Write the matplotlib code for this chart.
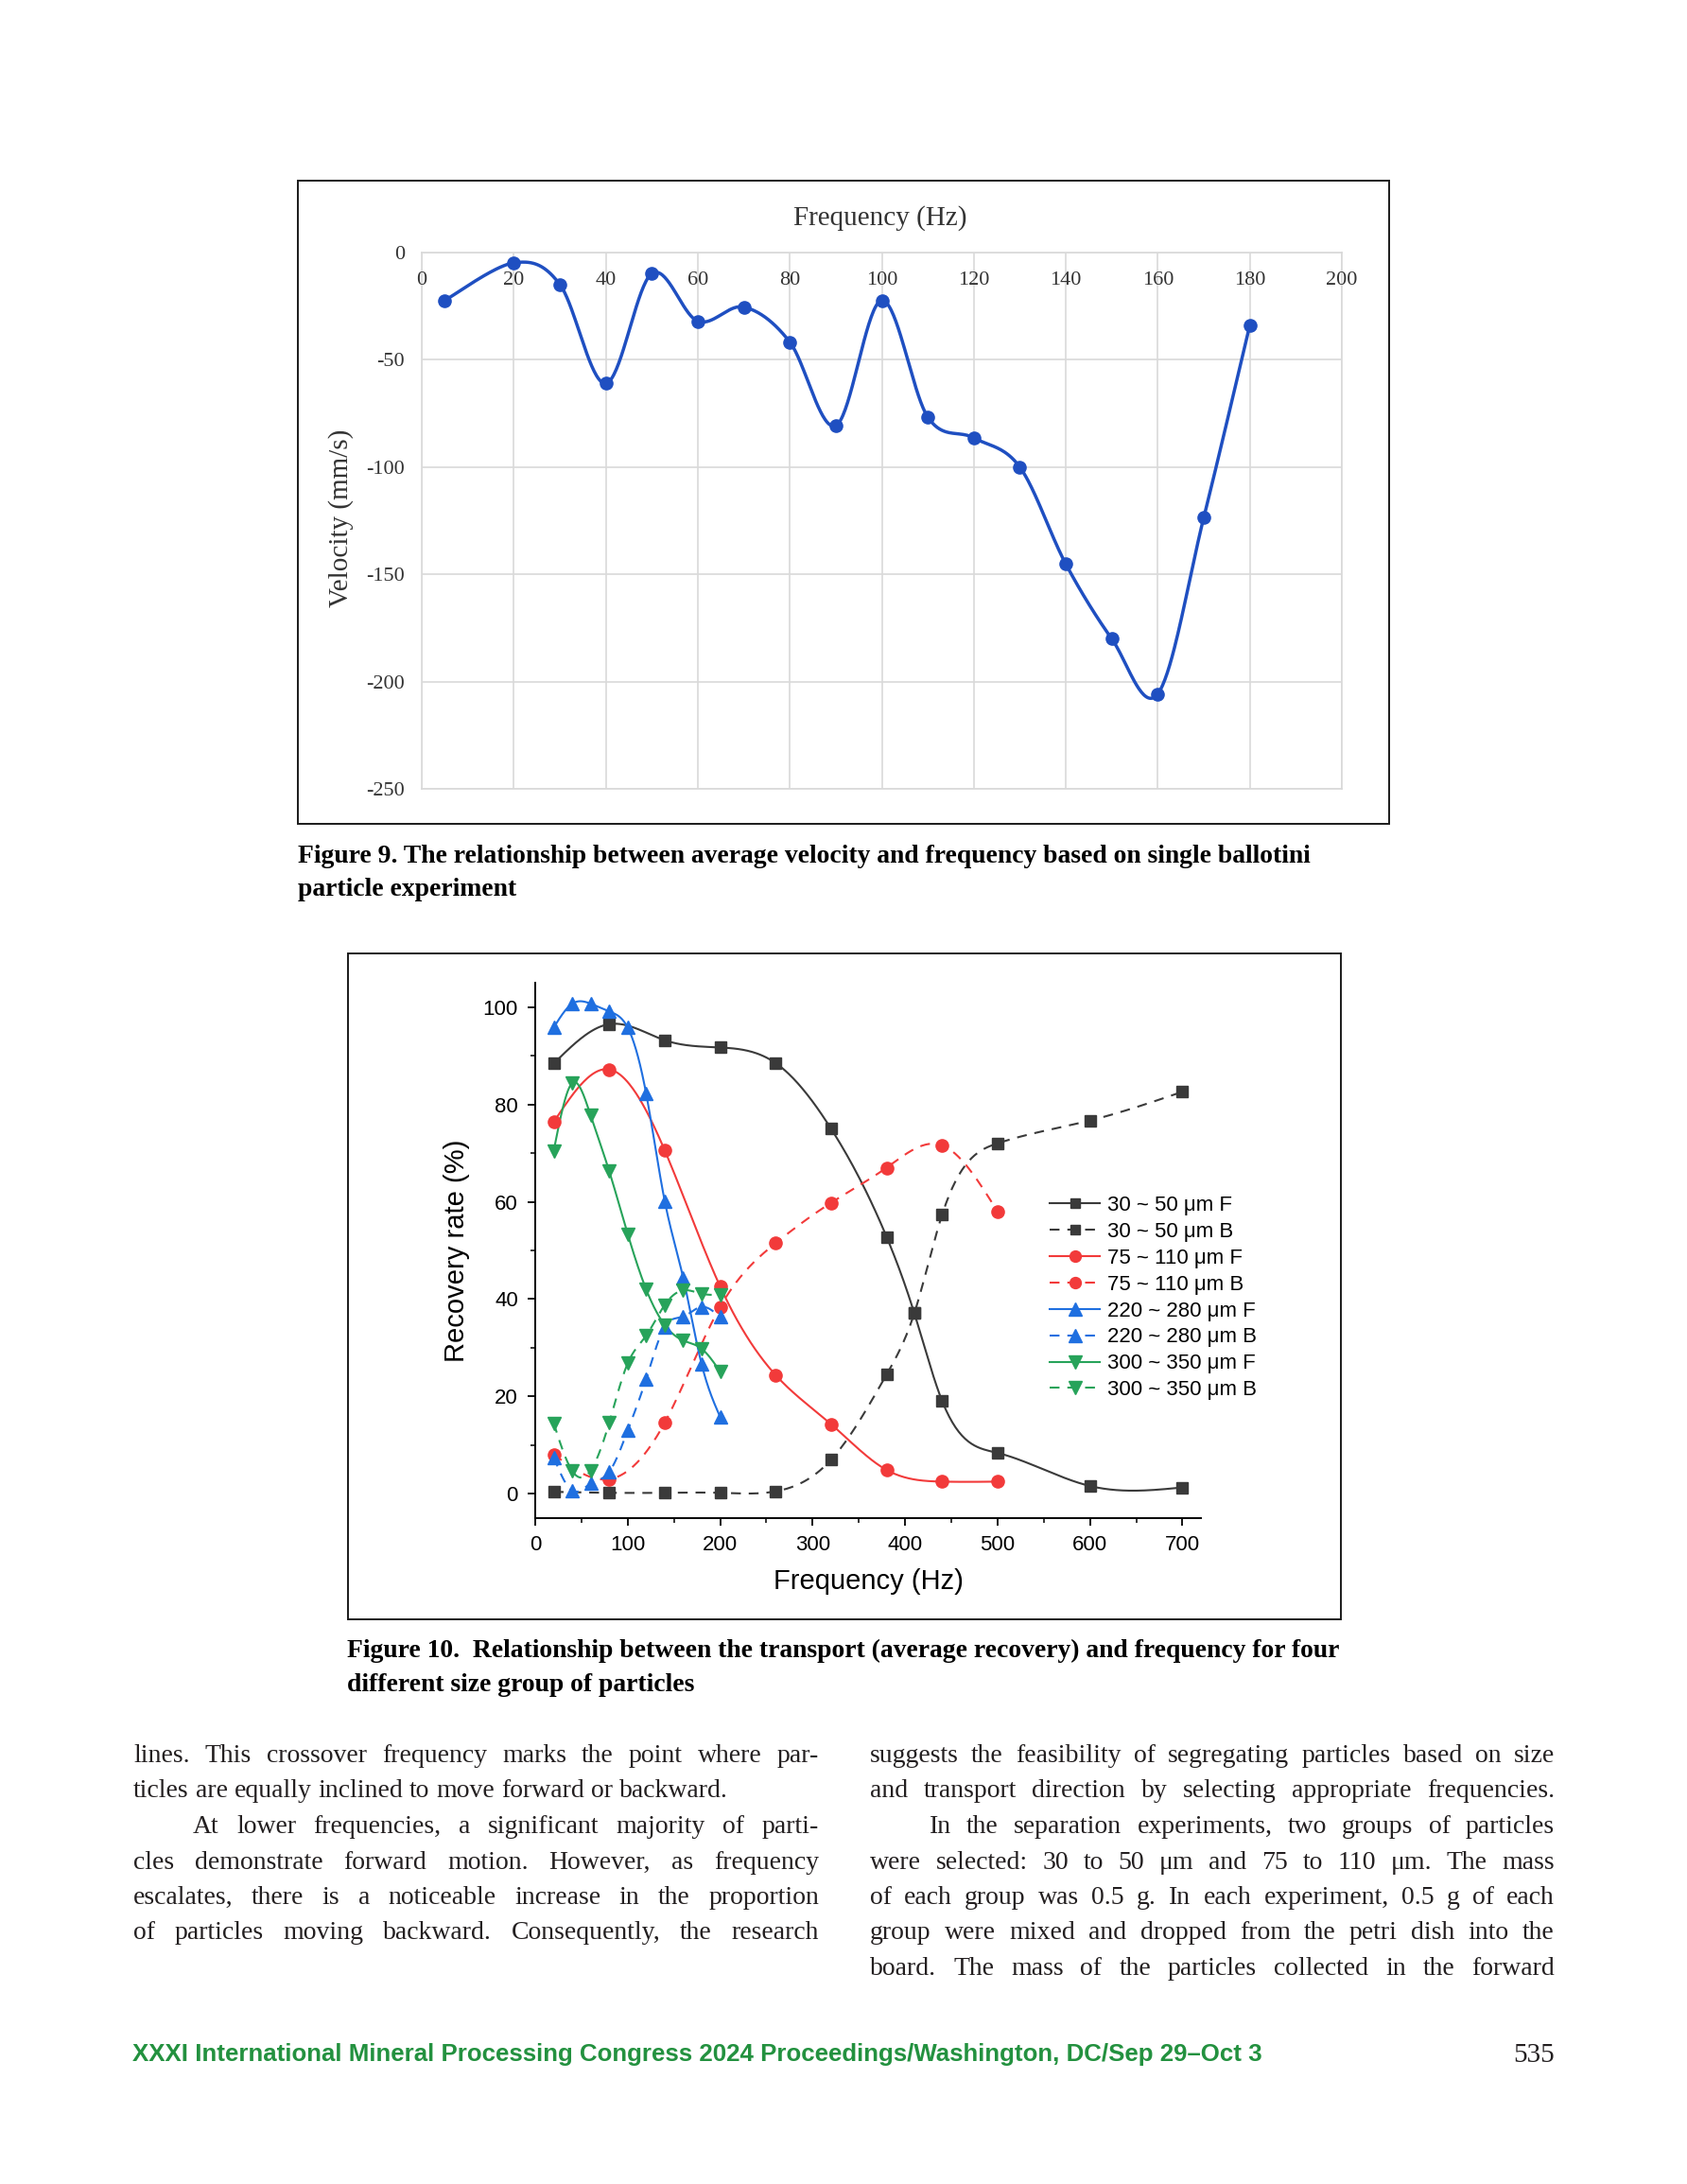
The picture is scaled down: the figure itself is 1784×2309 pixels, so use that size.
import numpy as np
import matplotlib
matplotlib.use('Agg')
import matplotlib.pyplot as plt
from matplotlib.lines import Line2D
from matplotlib.patches import Rectangle
from matplotlib.ticker import FixedLocator
from matplotlib import font_manager

plt.rcParams['axes.unicode_minus'] = False

# ================= data =================
# Figure 9: single ballotini particle, velocity vs frequency
vel_freq = [5, 20, 30, 40, 50, 60, 70, 80, 90, 100, 110, 120, 130, 140, 150, 160, 170, 180]
vel_mm_s = [-22.3, -4.8, -14.8, -61.0, -9.8, -32.0, -25.4, -41.7, -80.7, -22.3,
            -76.7, -86.4, -100.0, -145.2, -180.1, -205.7, -123.4, -33.8]
vel_xticks = list(range(0, 201, 20))
vel_yticks = [0, -50, -100, -150, -200, -250]

# Figure 10: recovery rate vs frequency
f_30_50 = [20, 80, 140, 200, 260, 320, 380, 410, 440, 500, 600, 700]
rf_30_50_F = [88.4, 96.5, 93.2, 91.7, 88.5, 75.0, 52.8, 37.1, 19.1, 8.4, 1.6, 1.3]
rf_30_50_B = [0.4, 0.2, 0.2, 0.2, 0.5, 7.0, 24.5, 37.1, 57.3, 72.0, 76.7, 82.6]
f_75_110 = [20, 80, 140, 200, 260, 320, 380, 440, 500]
rf_75_110_F = [76.4, 87.2, 70.6, 42.6, 24.4, 14.3, 4.9, 2.5, 2.5]
rf_75_110_B = [8.1, 3.0, 14.6, 38.4, 51.5, 59.8, 67.0, 71.6, 58.0]
f_coarse = [20, 40, 60, 80, 100, 120, 140, 160, 180, 200]
rf_220_280_F = [95.8, 100.7, 100.7, 99.1, 95.8, 82.2, 60.2, 44.4, 26.6, 15.8]
rf_220_280_B = [7.5, 0.6, 2.1, 4.5, 13.0, 23.6, 34.3, 36.4, 38.4, 36.3]
rf_300_350_F = [70.5, 84.4, 77.7, 66.3, 53.4, 42.0, 34.7, 31.5, 29.8, 25.1]
rf_300_350_B = [14.5, 4.7, 4.8, 14.6, 26.8, 32.5, 38.8, 41.8, 41.1, 40.9]
size_labels = ['30 ~ 50 μm', '75 ~ 110 μm', '220 ~ 280 μm', '300 ~ 350 μm']

# page text
caption9 = ['Figure 9. The relationship between average velocity and frequency based on single ballotini',
            'particle experiment']
caption10 = ['Figure 10.  Relationship between the transport (average recovery) and frequency for four',
             'different size group of particles']
left_lines = ['lines. This crossover frequency marks the point where par-',
              'ticles are equally inclined to move forward or backward.',
              'At lower frequencies, a significant majority of parti-',
              'cles demonstrate forward motion. However, as frequency',
              'escalates, there is a noticeable increase in the proportion',
              'of particles moving backward. Consequently, the research']
right_lines = ['suggests the feasibility of segregating particles based on size',
               'and transport direction by selecting appropriate frequencies.',
               'In the separation experiments, two groups of particles',
               'were selected: 30 to 50 μm and 75 to 110 μm. The mass',
               'of each group was 0.5 g. In each experiment, 0.5 g of each',
               'group were mixed and dropped from the petri dish into the',
               'board. The mass of the particles collected in the forward']
footer = 'XXXI International Mineral Processing Congress 2024 Proceedings/Washington, DC/Sep 29–Oct 3'
page_no = '535'


# ================= helpers =================
def nat_spline(xs, ys, num=400):
    # natural cubic spline through the points (Origin-style spline connection)
    x = np.asarray(xs, float)
    y = np.asarray(ys, float)
    n = len(x)
    h = np.diff(x)
    A = np.zeros((n, n))
    r = np.zeros(n)
    A[0, 0] = A[-1, -1] = 1
    for i in range(1, n - 1):
        A[i, i - 1] = h[i - 1]
        A[i, i] = 2 * (h[i - 1] + h[i])
        A[i, i + 1] = h[i]
        r[i] = 6 * ((y[i + 1] - y[i]) / h[i] - (y[i] - y[i - 1]) / h[i - 1])
    M = np.linalg.solve(A, r)
    xx = np.linspace(x[0], x[-1], num)
    k = np.clip(np.searchsorted(x, xx) - 1, 0, n - 2)
    t0 = x[k + 1] - xx
    t1 = xx - x[k]
    hk = h[k]
    yy = (M[k] * t0 ** 3 / (6 * hk) + M[k + 1] * t1 ** 3 / (6 * hk)
          + (y[k] / hk - M[k] * hk / 6) * t0 + (y[k + 1] / hk - M[k + 1] * hk / 6) * t1)
    return xx, yy


def smooth_bezier(xs, ys, sx, sy, n=40):
    # Excel-style smoothed line: Catmull-Rom Bezier computed in screen units
    P = np.column_stack([np.asarray(xs, float) * sx, np.asarray(ys, float) * sy])
    pts = np.vstack([P[0], P, P[-1]])
    t = np.linspace(0, 1, n)[:, None]
    segs = []
    for i in range(1, len(pts) - 2):
        p0, p1, p2, p3 = pts[i - 1], pts[i], pts[i + 1], pts[i + 2]
        c1 = p1 + (p2 - p0) / 6
        c2 = p2 - (p3 - p1) / 6
        segs.append((1 - t) ** 3 * p1 + 3 * (1 - t) ** 2 * t * c1 + 3 * (1 - t) * t ** 2 * c2 + t ** 3 * p2)
    c = np.vstack(segs)
    return c[:, 0] / sx, c[:, 1] / sy


W, H = 1784, 2309
fig = plt.figure(figsize=(W / 100, H / 100), dpi=100)
fig.patch.set_facecolor('white')
rend = fig.canvas.get_renderer()


def fx(px):
    return px / W


def fy(py):
    return 1 - py / H


def add_ax(l, t, r, b):
    return fig.add_axes([l / W, 1 - b / H, (r - l) / W, (b - t) / H])


def text_width(s, **kw):
    t = fig.text(0, 0, s, **kw)
    w = t.get_window_extent(renderer=rend).width
    t.remove()
    return w


def put_line(s, x0, x1, yb, justify, **kw):
    words = s.split(' ')
    widths = [text_width(w, **kw) for w in words]
    if justify and len(words) > 1:
        gap = (x1 - x0 - sum(widths)) / (len(words) - 1)
    else:
        gap = text_width('a a', **kw) - text_width('aa', **kw)
    x = x0
    for w, wd in zip(words, widths):
        fig.text(fx(x), fy(yb), w, va='baseline', ha='left', **kw)
        x += wd + gap


serif = 'Liberation Serif'
sans = 'Liberation Sans'

# ================= Figure 9 =================
fig.add_artist(Rectangle((fx(315), fy(871)), (1469 - 315) / W, (871 - 191) / H,
                         transform=fig.transFigure, fill=False, lw=1.4, ec='#1a1a1a'))
ax1 = add_ax(446, 267, 1419, 834)
ax1.set_xlim(0, 200)
ax1.set_ylim(-250, 0)
ax1.set_xticks(vel_xticks)
ax1.set_yticks(vel_yticks)
ax1.grid(True, color='#d9d9d9', lw=1.2)
ax1.set_axisbelow(True)
for sp in ax1.spines.values():
    sp.set_color('#d9d9d9')
    sp.set_linewidth(1.2)
ax1.tick_params(length=0, labelbottom=False, pad=13, labelsize=16, labelcolor='#333333')
for lab in ax1.get_yticklabels():
    lab.set_fontfamily(serif)
for v in vel_xticks:
    ax1.text(v, -13, str(v), ha='center', va='center', fontsize=16,
             family=serif, color='#333333')
bx, by = smooth_bezier(vel_freq, vel_mm_s, 973 / 200, 567 / 250)
ax1.plot(bx, by, color='#1f4fc1', lw=2.5, zorder=3)
ax1.plot(vel_freq, vel_mm_s, 'o', color='#1f4fc1', ms=9.5, zorder=4)
fig.text(fx(931), fy(231), 'Frequency (Hz)', ha='center', va='center',
         fontsize=21, family=serif, color='#333333')
fig.text(fx(361), fy(548), 'Velocity (mm/s)', ha='center', va='center', rotation=90,
         fontsize=21, family=serif, color='#333333')

# ================= Figure 10 =================
fig.add_artist(Rectangle((fx(368), fy(1712)), (1418 - 368) / W, (1712 - 1008) / H,
                         transform=fig.transFigure, fill=False, lw=1.4, ec='#1a1a1a'))
ax2 = add_ax(566, 1039, 1270, 1605)
ax2.set_xlim(0, 720)
ax2.set_ylim(-5, 105)
ax2.spines['top'].set_visible(False)
ax2.spines['right'].set_visible(False)
for sp in ('left', 'bottom'):
    ax2.spines[sp].set_linewidth(1.4)
ax2.set_xticks(range(0, 701, 100))
ax2.set_yticks(range(0, 101, 20))
ax2.xaxis.set_minor_locator(FixedLocator(range(50, 701, 100)))
ax2.yaxis.set_minor_locator(FixedLocator(range(10, 100, 20)))
ax2.tick_params(which='major', direction='out', length=6, width=1.3, labelsize=16, pad=7)
ax2.tick_params(which='minor', direction='out', length=3.5, width=1.1)
for lab in ax2.get_xticklabels() + ax2.get_yticklabels():
    lab.set_fontfamily(sans)
ax2.set_xlabel('Frequency (Hz)', fontsize=21, family=sans, labelpad=10)
ax2.set_ylabel('Recovery rate (%)', fontsize=21, family=sans, labelpad=10)

series = [
    (f_30_50, rf_30_50_F, rf_30_50_B, '#3a3a3a', 's', 8.5),
    (f_75_110, rf_75_110_F, rf_75_110_B, '#f23a3a', 'o', 9.5),
    (f_coarse, rf_220_280_F, rf_220_280_B, '#1f6fe0', '^', 10.5),
    (f_coarse, rf_300_350_F, rf_300_350_B, '#27a35a', 'v', 10.5),
]
dash = (0, (5, 4))
handles = []
labels = []
for (fq, yf, yb, col, mk, ms), name in zip(series, size_labels):
    for yy, ls, tag in ((yf, '-', 'F'), (yb, dash, 'B')):
        cx, cy = nat_spline(fq, yy)
        ax2.plot(cx, cy, color=col, lw=1.5, ls=ls, zorder=2)
        ax2.plot(fq, yy, ls='none', marker=mk, ms=ms, color=col, mec=col, zorder=3)
        handles.append(Line2D([], [], color=col, lw=1.5, ls=ls, marker=mk, ms=ms * 0.9))
        labels.append(f'{name} {tag}')
ax2.legend(handles, labels, loc='upper left', bbox_to_anchor=(fx(1110), fy(1264)),
           bbox_transform=fig.transFigure, frameon=False, prop={'family': sans, 'size': 16},
           handlelength=2.4, handletextpad=0.35, labelspacing=0.31, borderpad=0, borderaxespad=0)

# ================= captions =================
cap_kw = dict(family=serif, weight='bold')
s9 = 20 * 1077 / text_width(caption9[0], fontsize=20, **cap_kw)
s10 = 20 * 1050 / text_width(caption10[0], fontsize=20, **cap_kw)
cap_size = (s9 + s10) / 2
for line, yb in zip(caption9, (912, 947)):
    fig.text(fx(315), fy(yb), line, va='baseline', fontsize=cap_size, **cap_kw)
for line, yb in zip(caption10, (1752, 1788)):
    fig.text(fx(367), fy(yb), line, va='baseline', fontsize=cap_size, **cap_kw)

# ================= body text =================
body_kw = dict(family=serif, color='#231f20')
col_w = 726
fits = []
for s in left_lines + right_lines:
    words = s.split(' ')
    nat = sum(text_width(w, fontsize=20, **body_kw) for w in words)
    nat += (len(words) - 1) * (text_width('a a', fontsize=20, **body_kw) - text_width('aa', fontsize=20, **body_kw))
    fits.append(20 * col_w / nat)
body_size = min(20, min(fits) * 0.995)
body_kw['fontsize'] = body_size

baselines = [1863, 1900.5, 1938, 1975.5, 2013, 2050.5, 2088]
indent = 63
for i, s in enumerate(left_lines):
    x0 = 141 + (indent if i == 2 else 0)
    put_line(s, x0, 866, baselines[i], justify=(i != 1), **body_kw)
for i, s in enumerate(right_lines):
    x0 = 920 + (indent if i == 2 else 0)
    put_line(s, x0, 1644, baselines[i], justify=True, **body_kw)

# ================= footer =================
names = {f.name for f in font_manager.fontManager.ttflist}
foot_fam = 'Liberation Sans Narrow' if 'Liberation Sans Narrow' in names else sans
foot_size = 18 * 1193 / text_width(footer, fontsize=18, family=foot_fam, weight='bold')
fig.text(fx(140), fy(2179), footer, va='baseline', fontsize=foot_size,
         family=foot_fam, weight='bold', color='#23913f')
fig.text(fx(1644), fy(2180), page_no, ha='right', va='baseline', fontsize=21,
         family=serif, color='#231f20')

fig.savefig('out.png', dpi=100, facecolor='white')
